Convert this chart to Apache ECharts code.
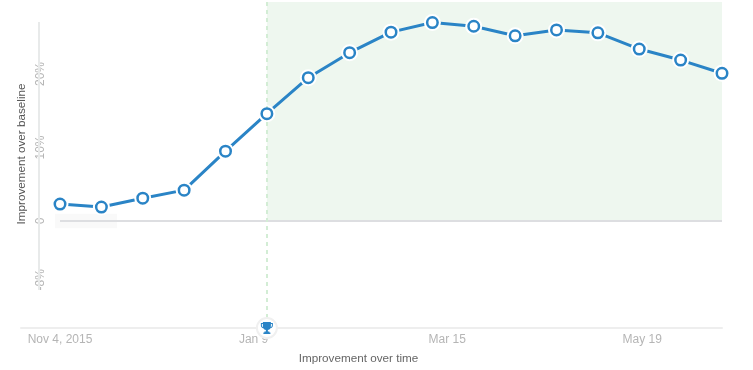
<!DOCTYPE html>
<html>
<head>
<meta charset="utf-8" />
<style>
  html, body { margin: 0; padding: 0; background: #fff; }
  #chart { width: 753px; height: 370px; }
</style>
<script src="https://cdn.jsdelivr.net/npm/echarts@6/dist/echarts.min.js"></script>
</head>
<body>
<div id="chart"></div>
<script>
// days since Nov 4, 2015
const days = [0, 14, 28, 42, 56, 70, 84, 98, 112, 126, 140, 154, 168, 182, 196, 210, 224];
const improvement = [2.3, 1.9, 3.1, 4.2, 9.5, 14.6, 19.5, 22.9, 25.7, 27.0, 26.5, 25.2, 26.0, 25.6, 23.4, 21.9, 20.1];
const xTicks = [0, 65.5, 131, 197];
const xTickLabels = ["Nov 4, 2015", "Jan 9", "Mar 15", "May 19"];
const yTicks = [-8, 0, 10, 20];
const yTickLabels = ["-8%", "0", "10%", "20%"];

const xMin = -13.2;
const xMax = 224;
const yMin = -14.56;
const yMax = 29.8;
const winDay = 70;
const blue = "#2a84c6";
const trophy = "path://M4 0H20V2H24V7C24 10 22 12 19 12.500C18 14.500 16 15.500 14 16V19H17V21H19V24H5V21H7V19H10V16C8 15.500 6 14.500 5 12.500C2 12 0 10 0 7V2H4ZM2 4V7C2 8.500 3 9.800 4.300 10.300C4.100 9.500 4 8.500 4 7.500V4ZM20 4V7.500C20 8.500 19.900 9.500 19.700 10.300C21 9.800 22 8.500 22 7V4Z";

const points = days.map((d, i) => [d, improvement[i]]);
const chartDom = echarts.init(document.getElementById("chart"));
const labelFont = { fontFamily: "Liberation Sans", fontSize: 12, color: "#b5b5b5" };

chartDom.setOption({
  animation: false,
  textStyle: { fontFamily: "Liberation Sans" },
  grid: { left: 21, right: 31, top: 2, bottom: 42 },
  xAxis: {
    type: "value",
    min: xMin,
    max: xMax,
    splitLine: { show: false },
    axisTick: { show: false },
    axisLine: { onZero: false, lineStyle: { color: "#eeeeee", width: 2 } },
    axisLabel: {
      ...labelFont,
      margin: 6,
      customValues: xTicks,
      formatter: v => xTickLabels[xTicks.indexOf(v)]
    },
    name: "Improvement over time",
    nameLocation: "middle",
    nameGap: 25,
    nameTextStyle: { fontFamily: "Liberation Sans", fontSize: 11.7, color: "#666666", padding: [0, 26, 0, 0] }
  },
  yAxis: {
    type: "value",
    min: yMin,
    max: yMax,
    offset: -18,
    splitLine: { show: false },
    axisTick: { show: false },
    axisLine: { show: false },
    axisLabel: {
      ...labelFont,
      rotate: 90,
      margin: -8,
      customValues: yTicks,
      formatter: v => yTickLabels[yTicks.indexOf(v)]
    },
    name: "Improvement over baseline",
    nameLocation: "middle",
    nameRotate: 90,
    nameMoveOverlap: false,
    nameGap: 11,
    nameTextStyle: { fontFamily: "Liberation Sans", fontSize: 11.7, color: "#555555", padding: [0, 0, 0, 22] }
  },
  series: [
    {
      type: "line",
      name: "Improvement",
      data: points,
      z: 3,
      clip: false,
      showSymbol: false,
      lineStyle: { color: blue, width: 3 },
      itemStyle: { color: blue },
      markArea: {
        silent: true,
        data: [
          [
            { coord: [winDay, yMax], itemStyle: { color: "#eef7ef", opacity: 1 } },
            { coord: [xMax, 0] }
          ],
          [
            { coord: [-1.7, 1], itemStyle: { color: "#f9f9f9", opacity: 1 } },
            { coord: [19.3, -1] }
          ]
        ]
      },
      markLine: {
        silent: true,
        symbol: "none",
        label: { show: false },
        data: [
          [
            { coord: [0, 0], lineStyle: { color: "#dddee1", width: 2, type: "solid" } },
            { coord: [xMax, 0] }
          ],
          [
            { coord: [-7.1, 27.07], lineStyle: { color: "#e8eaea", width: 2, type: "solid" } },
            { coord: [-7.1, -9.4] }
          ],
          [
            { coord: [winDay, yMax], lineStyle: { color: "#d3edd5", width: 2, type: [4, 4] } },
            { coord: [winDay, -13.2] }
          ]
        ]
      }
    },
    {
      type: "scatter",
      name: "halo",
      data: points,
      z: 4,
      clip: false,
      silent: true,
      symbolSize: 17,
      itemStyle: { color: "#ffffff", opacity: 1 }
    },
    {
      type: "scatter",
      name: "points",
      data: points,
      z: 5,
      clip: false,
      silent: true,
      symbolSize: 10.5,
      itemStyle: { color: "#ffffff", borderColor: blue, borderWidth: 2.5, opacity: 1 },
      markPoint: {
        silent: true,
        animation: false,
        label: { show: false },
        data: [
          {
            coord: [winDay, yMin],
            symbol: "circle",
            symbolSize: 20,
            itemStyle: { color: "#ffffff", borderColor: "#f0f0f0", borderWidth: 2, opacity: 1 }
          },
          {
            coord: [winDay, yMin],
            symbol: trophy,
            symbolSize: 12,
            itemStyle: { color: blue, opacity: 1 }
          }
        ]
      }
    }
  ]
});
</script>
</body>
</html>
